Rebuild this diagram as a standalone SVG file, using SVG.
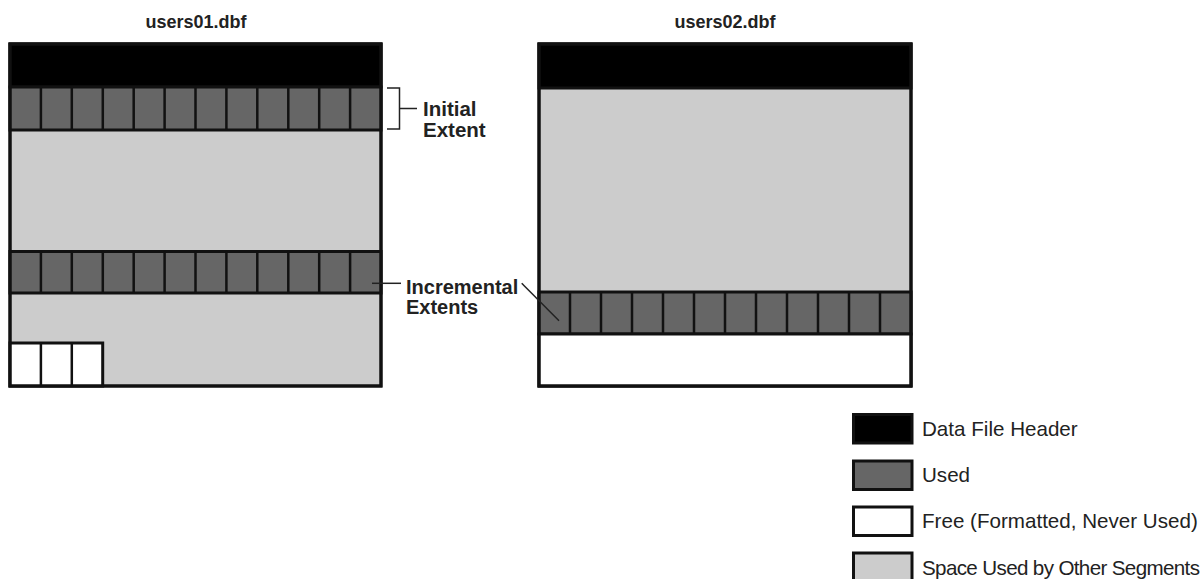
<svg xmlns="http://www.w3.org/2000/svg" width="1202" height="579" viewBox="0 0 1202 579">
<style>
.t{font-family:"Liberation Sans",Arial,sans-serif;fill:#222}
.b{font-weight:bold}
.lg{font-size:20.6px}
.hdr{fill:#000;stroke:#111;stroke-width:3}
.used{fill:#666;stroke:#111;stroke-width:3}
.free{fill:#fff;stroke:#111;stroke-width:3}
.other{fill:#ccc;stroke:#111;stroke-width:3}
.div{stroke:#111;stroke-width:2.5;fill:none}
.conn{stroke:#222;stroke-width:1.5;fill:none}
</style>
<rect width="1202" height="579" fill="#fff"/>

<g id="users01">
  <text class="t b" x="196" y="28" font-size="18" text-anchor="middle">users01.dbf</text>
  <rect class="other" x="10" y="44" width="371" height="342"/>
  <rect class="hdr" x="10" y="44" width="371" height="43"/>
  <rect class="used" x="10" y="87" width="371" height="43"/>
  <path class="div" d="M40.9 87V130M71.8 87V130M102.8 87V130M133.7 87V130M164.6 87V130M195.5 87V130M226.4 87V130M257.3 87V130M288.3 87V130M319.2 87V130M350.1 87V130"/>
  <rect class="used" x="10" y="251.5" width="371" height="41.5"/>
  <path class="div" d="M40.9 251.5V293M71.8 251.5V293M102.8 251.5V293M133.7 251.5V293M164.6 251.5V293M195.5 251.5V293M226.4 251.5V293M257.3 251.5V293M288.3 251.5V293M319.2 251.5V293M350.1 251.5V293"/>
  <rect class="free" x="10" y="343" width="92.7" height="43"/>
  <path class="div" d="M40.9 343V386M71.8 343V386"/>
  <rect x="10" y="44" width="371" height="342" fill="none" stroke="#111" stroke-width="3"/>
</g>

<g id="users02">
  <text class="t b" x="725" y="28" font-size="18" text-anchor="middle">users02.dbf</text>
  <rect class="other" x="539" y="44" width="372" height="342"/>
  <rect class="hdr" x="539" y="44" width="372" height="44"/>
  <rect class="used" x="539" y="292" width="372" height="42"/>
  <path class="div" d="M570 292V334M601 292V334M632 292V334M663 292V334M694 292V334M725 292V334M756 292V334M787 292V334M818 292V334M849 292V334M880 292V334"/>
  <rect class="free" x="539" y="334" width="372" height="52"/>
  <rect x="539" y="44" width="372" height="342" fill="none" stroke="#111" stroke-width="3"/>
</g>

<g id="label-initial">
  <text class="t b" x="423" y="116" font-size="20.5">Initial</text>
  <text class="t b" x="423" y="137" font-size="20.5">Extent</text>
</g>
<g id="label-incremental">
  <text class="t b" x="406" y="293.5" font-size="20">Incremental</text>
  <text class="t b" x="406" y="314" font-size="20">Extents</text>
</g>

<g id="connectors">
  <path class="conn" d="M387 88H399.5V129H387M399.5 108.5H417"/>
  <path class="conn" d="M372 283.3H401"/>
  <path class="conn" d="M521.7 283.3L559 320.7"/>
</g>

<g id="legend">
  <g id="legend-header">
    <rect class="hdr" x="853.5" y="414.5" width="58.5" height="28.5"/>
    <text class="t lg" x="922" y="436">Data File Header</text>
  </g>
  <g id="legend-used">
    <rect class="used" x="853.5" y="461" width="58.5" height="28.5"/>
    <text class="t lg" x="922" y="482">Used</text>
  </g>
  <g id="legend-free">
    <rect class="free" x="853.5" y="507" width="58.5" height="28.5"/>
    <text class="t lg" x="922" y="528">Free (Formatted, Never Used)</text>
  </g>
  <g id="legend-other">
    <rect class="other" x="853.5" y="553" width="58.5" height="28.5"/>
    <text class="t lg" x="922" y="575" textLength="278" lengthAdjust="spacing">Space Used by Other Segments</text>
  </g>
</g>
</svg>
